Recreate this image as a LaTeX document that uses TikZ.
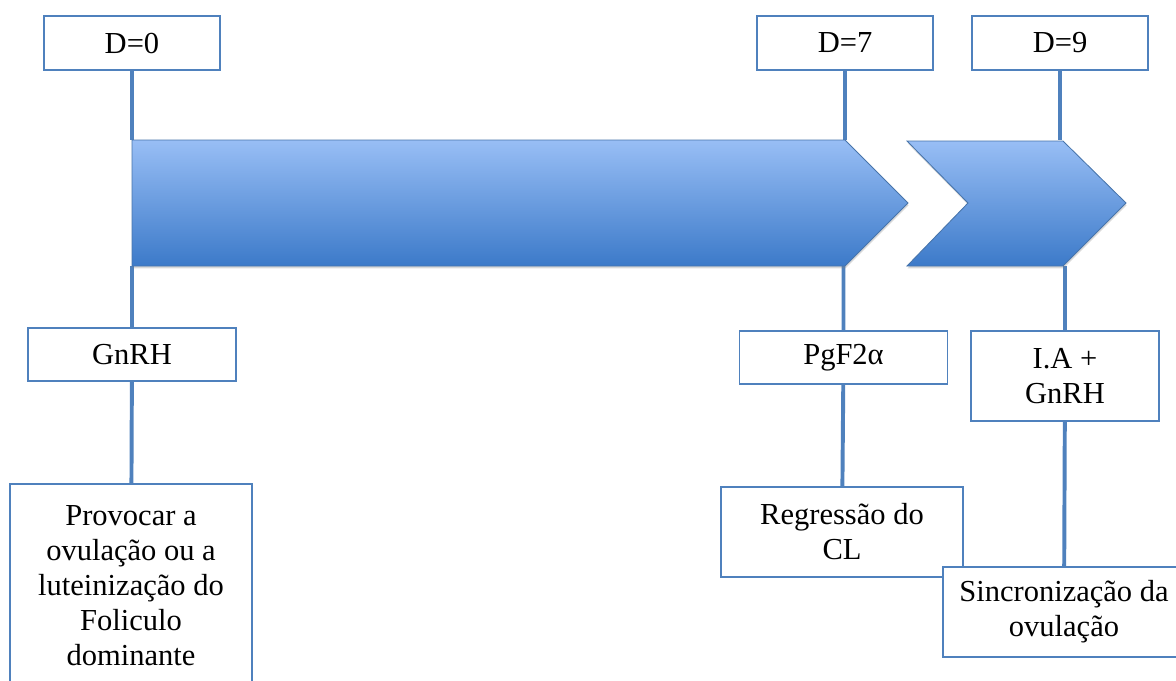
\documentclass[tikz,border=0pt]{standalone}
\usepackage{fontspec}
\setmainfont{Liberation Serif}
\usetikzlibrary{shadows}
\definecolor{lineblue}{HTML}{4F81BD}
\definecolor{arrowtop}{HTML}{98BEF5}
\definecolor{arrowbot}{HTML}{3C7AC9}
\begin{document}
\begin{tikzpicture}[
    x=0.025cm, y=-0.025cm,
    font=\fontsize{21.7}{24.9}\selectfont,
    every node/.style = {draw=lineblue, line width=1pt, fill=white, align=center, inner sep=0pt},
    daybox/.style = {minimum width=4.4cm, minimum height=1.35cm},
    drugbox/.style = {minimum width=5.2cm, minimum height=1.33cm},
    effbox/.style = {minimum width=6.05cm, minimum height=2.25cm},
    link/.style = {draw=lineblue, line width=2.8pt},
    phase/.style = {draw=lineblue!90!black, line width=0.6pt, top color=arrowtop, bottom color=arrowbot,
        drop shadow={shadow xshift=0.4pt, shadow yshift=-1.6pt, opacity=0.3}}
     ]
  \useasboundingbox (0,0) rectangle (1176,680);
  \coordinate (top) at (0,140);
  \coordinate (bot) at (0,266);
  \node[daybox] (d0) at (132,43) {D=0};
  \node[daybox] (d7) at (845,43) {D=7};
  \node[daybox] (d9) at (1060,43) {D=9};
  \node[drugbox] (gnrh) at (132,354.5) {GnRH};
  \node[drugbox] (pgf) at (843.5,357.5) {PgF2α};
  \node[minimum width=4.7cm, minimum height=2.25cm] (ia) at (1065,376) {I.A +\\GnRH};
  \node[minimum width=6.05cm, minimum height=5.1cm] (prov) at (131,586) {Provocar a\\ovulação ou a\\luteinização do\\Foliculo\\dominante};
  \node[effbox] (reg) at (842,532) {Regressão do\\CL};
  \node[effbox] (sinc) at (1064,612) {Sincronização da\\ovulação};
  \draw[link] (d0) -- (d0 |- top);
  \draw[link] (d7) -- (d7 |- top);
  \draw[link] (d9) -- (d9 |- top);
  \draw[link] (gnrh |- bot) -- (gnrh) -- (prov);
  \draw[link] (pgf |- bot) -- (pgf) -- (reg);
  \draw[link] (ia |- bot) -- (ia) -- (sinc);
  \path[phase] (132,140) -- (845,140) -- (908,203) -- (845,266) -- (132,266) -- cycle;
  \path[phase] (907,141) -- (1063,141) -- (1126,203) -- (1063,266) -- (907,266) -- (968,203) -- cycle;
\end{tikzpicture}
\end{document}
